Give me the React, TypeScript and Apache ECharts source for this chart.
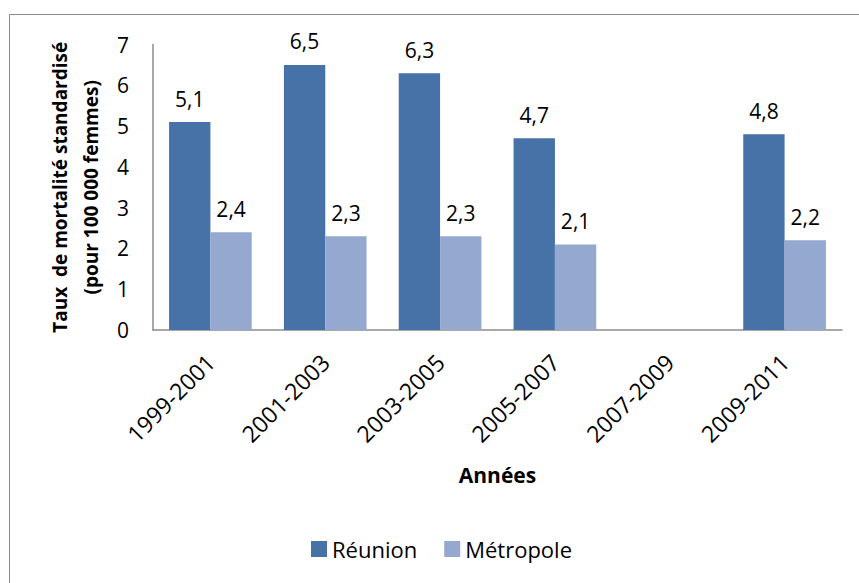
import React, { useEffect, useRef } from "react";
import * as echarts from "echarts";

const categories = ["1999-2001", "2001-2003", "2003-2005", "2005-2007", "2007-2009", "2009-2011"];
const reunion = [5.1, 6.5, 6.3, 4.7, null, 4.8];
const metropole = [2.4, 2.3, 2.3, 2.1, null, 2.2];
const yTicks = [0, 1, 2, 3, 4, 5, 6, 7];

const FONT = "Open Sans";
const fmt = (v: number) => String(v).replace(".", ",");

export default function App() {
  const ref = useRef<HTMLDivElement>(null);
  useEffect(() => {
    if (!ref.current) return;
    const chart = echarts.init(ref.current, null, { renderer: "svg" });
    const labelCfg = {
      show: true,
      position: "top" as const,
      distance: 13,
      fontFamily: FONT,
      fontSize: 21,
      color: "#000",
      formatter: (p: any) => (p.value == null ? "" : fmt(p.value)),
    };
    chart.setOption({
      animation: false,
      textStyle: { fontFamily: FONT },
      graphic: [
        {
          type: "rect",
          shape: { x: 9.5, y: 14.5, width: 870, height: 590 },
          style: { fill: "none", stroke: "#8c8c8c", lineWidth: 1 },
          silent: true,
        },
      ],
      grid: { left: 153, right: 17, top: 44.6, bottom: 253 },
      legend: {
        bottom: 18,
        left: 306,
        itemWidth: 16,
        itemHeight: 16,
        itemGap: 27,
        icon: "rect",
        textStyle: { fontFamily: FONT, fontSize: 22, color: "#000" },
        data: ["Réunion", "Métropole"],
      },
      xAxis: {
        type: "category",
        data: categories,
        axisLine: { lineStyle: { color: "#8c8c8c", width: 1.5 } },
        axisTick: { show: false },
        axisLabel: {
          rotate: 45,
          interval: 0,
          margin: 28,
          fontFamily: FONT,
          fontSize: 23,
          color: "#000",
        },
        name: "Années",
        nameLocation: "middle",
        nameGap: 134,
        nameTextStyle: { fontFamily: FONT, fontSize: 21, fontWeight: "bold", color: "#000" },
      },
      yAxis: {
        type: "value",
        min: yTicks[0],
        max: yTicks[yTicks.length - 1],
        interval: 1,
        axisLine: { show: true, lineStyle: { color: "#8c8c8c", width: 1.5 } },
        axisTick: { show: false },
        splitLine: { show: false },
        axisLabel: { margin: 24, fontFamily: FONT, fontSize: 21, color: "#000" },
        name: "Taux  de mortalité standardisé\n(pour 100 000 femmes)",
        nameLocation: "middle",
        nameRotate: 90,
        nameGap: 47,
        nameTextStyle: {
          fontFamily: FONT,
          fontSize: 19,
          fontWeight: "bold",
          color: "#000",
          lineHeight: 31,
        },
      },
      series: [
        {
          name: "Réunion",
          type: "bar",
          data: reunion,
          barGap: "0%",
          barCategoryGap: "28%",
          itemStyle: { color: "#4672A8" },
          label: labelCfg,
        },
        {
          name: "Métropole",
          type: "bar",
          data: metropole,
          itemStyle: { color: "#95A9D0" },
          label: labelCfg,
        },
      ],
    });
    return () => chart.dispose();
  }, []);
  return <div ref={ref} style={{ width: 859, height: 583, position: "absolute", left: 0, top: 0 }} />;
}
